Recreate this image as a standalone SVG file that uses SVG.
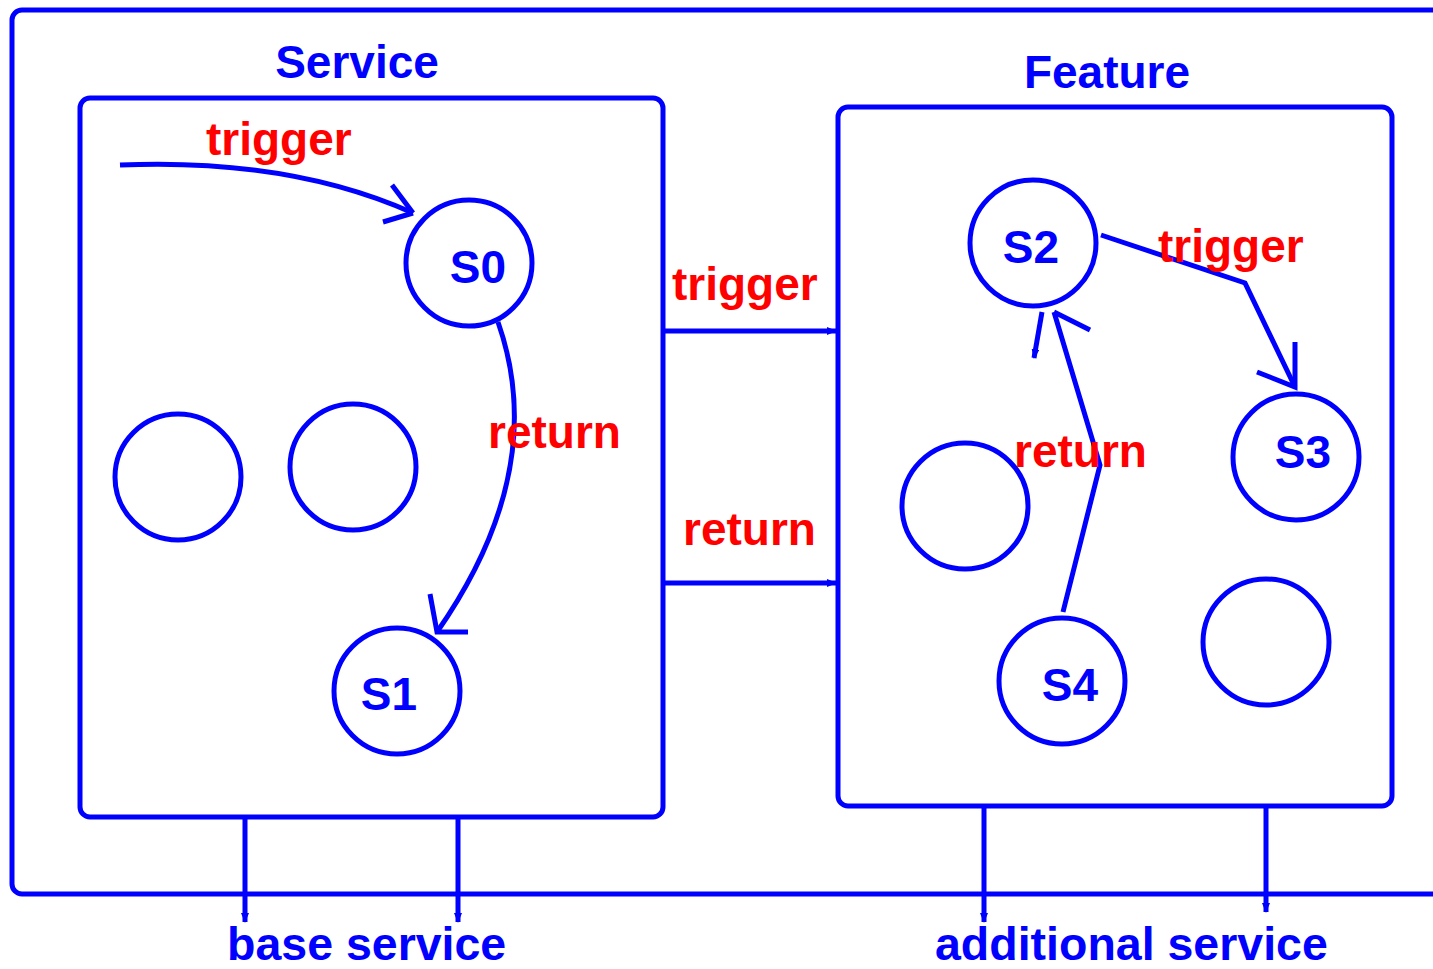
<svg xmlns="http://www.w3.org/2000/svg" width="1433" height="969" viewBox="0 0 1433 969">
<style>
.b{fill:none;stroke:#0000ff;stroke-width:5}
.c{fill:none;stroke:#0000ff;stroke-width:5}
.l{fill:none;stroke:#0000ff;stroke-width:5}
.t{font-family:"Liberation Sans",Arial,sans-serif;font-weight:bold;font-size:46px}
.blue{fill:#0000ff}
.red{fill:#ff0000}
</style>
<defs>
<marker id="tri" markerWidth="10" markerHeight="8" refX="9" refY="4" orient="auto" markerUnits="userSpaceOnUse">
<path d="M0,0 L10,4 L0,8 Z" fill="#0000ff"/>
</marker>
</defs>
<rect width="1433" height="969" fill="#ffffff"/>
<g id="outer"><rect class="b" x="12" y="10" width="1440" height="884" rx="10"/></g>
<g id="service">
<rect class="b" x="80" y="98" width="583" height="719" rx="10"/>
<text class="t blue" x="357" y="78" text-anchor="middle">Service</text>
</g>
<g id="feature">
<rect class="b" x="838" y="107" width="554" height="699" rx="10"/>
<text class="t blue" x="1107" y="88" text-anchor="middle">Feature</text>
</g>
<g id="S0"><circle class="c" cx="469" cy="263" r="63"/><text class="t blue" x="478" y="283" text-anchor="middle">S0</text></g>
<g id="S1"><circle class="c" cx="397" cy="691" r="63"/><text class="t blue" x="389" y="710" text-anchor="middle">S1</text></g>
<g id="E1"><circle class="c" cx="178" cy="477" r="63"/></g>
<g id="E2"><circle class="c" cx="353" cy="467" r="63"/></g>
<g id="S2"><circle class="c" cx="1033" cy="243" r="63"/><text class="t blue" x="1031" y="263" text-anchor="middle">S2</text></g>
<g id="S3"><circle class="c" cx="1296" cy="457" r="63"/><text class="t blue" x="1303" y="468" text-anchor="middle">S3</text></g>
<g id="E3"><circle class="c" cx="965" cy="506" r="63"/></g>
<g id="S4"><circle class="c" cx="1062" cy="681" r="63"/><text class="t blue" x="1070" y="701" text-anchor="middle">S4</text></g>
<g id="E4"><circle class="c" cx="1266" cy="642" r="63"/></g>
<g id="connectors">
<path class="l" d="M120,165 Q290,158 413,213"/>
<path class="l" d="M392,185 L413,213 M383,222 L413,213"/>
<path class="l" d="M498,322 Q550,470 437,632"/>
<path class="l" d="M430,594 L437,632 L468,632"/>
<path class="l" d="M664,331 L836,331" marker-end="url(#tri)"/>
<path class="l" d="M664,583 L836,583" marker-end="url(#tri)"/>
<path class="l" d="M1101,235 L1245,283 L1295,387"/>
<path class="l" d="M1295,342 L1295,387 L1257,372"/>
<path class="l" d="M1063,612 L1100,465 L1054,312"/>
<path class="l" d="M1054,312 L1090,330"/>
<path class="l" d="M1042,312 L1034,358" marker-end="url(#tri)"/>
<path class="l" d="M245,817 L245,922" marker-end="url(#tri)"/>
<path class="l" d="M458,817 L458,922" marker-end="url(#tri)"/>
<path class="l" d="M984,806 L984,922" marker-end="url(#tri)"/>
<path class="l" d="M1266,806 L1266,912" marker-end="url(#tri)"/>
</g>
<g id="labels">
<text class="t red" x="206" y="155">trigger</text>
<text class="t red" x="672" y="300">trigger</text>
<text class="t red" x="488" y="448">return</text>
<text class="t red" x="683" y="545">return</text>
<text class="t red" x="1158" y="262">trigger</text>
<text class="t red" x="1014" y="467">return</text>
<text class="t blue" x="227" y="960" style="font-size:46.5px">base service</text>
<text class="t blue" x="935" y="960" style="font-size:46.5px">additional service</text>
</g>
</svg>
